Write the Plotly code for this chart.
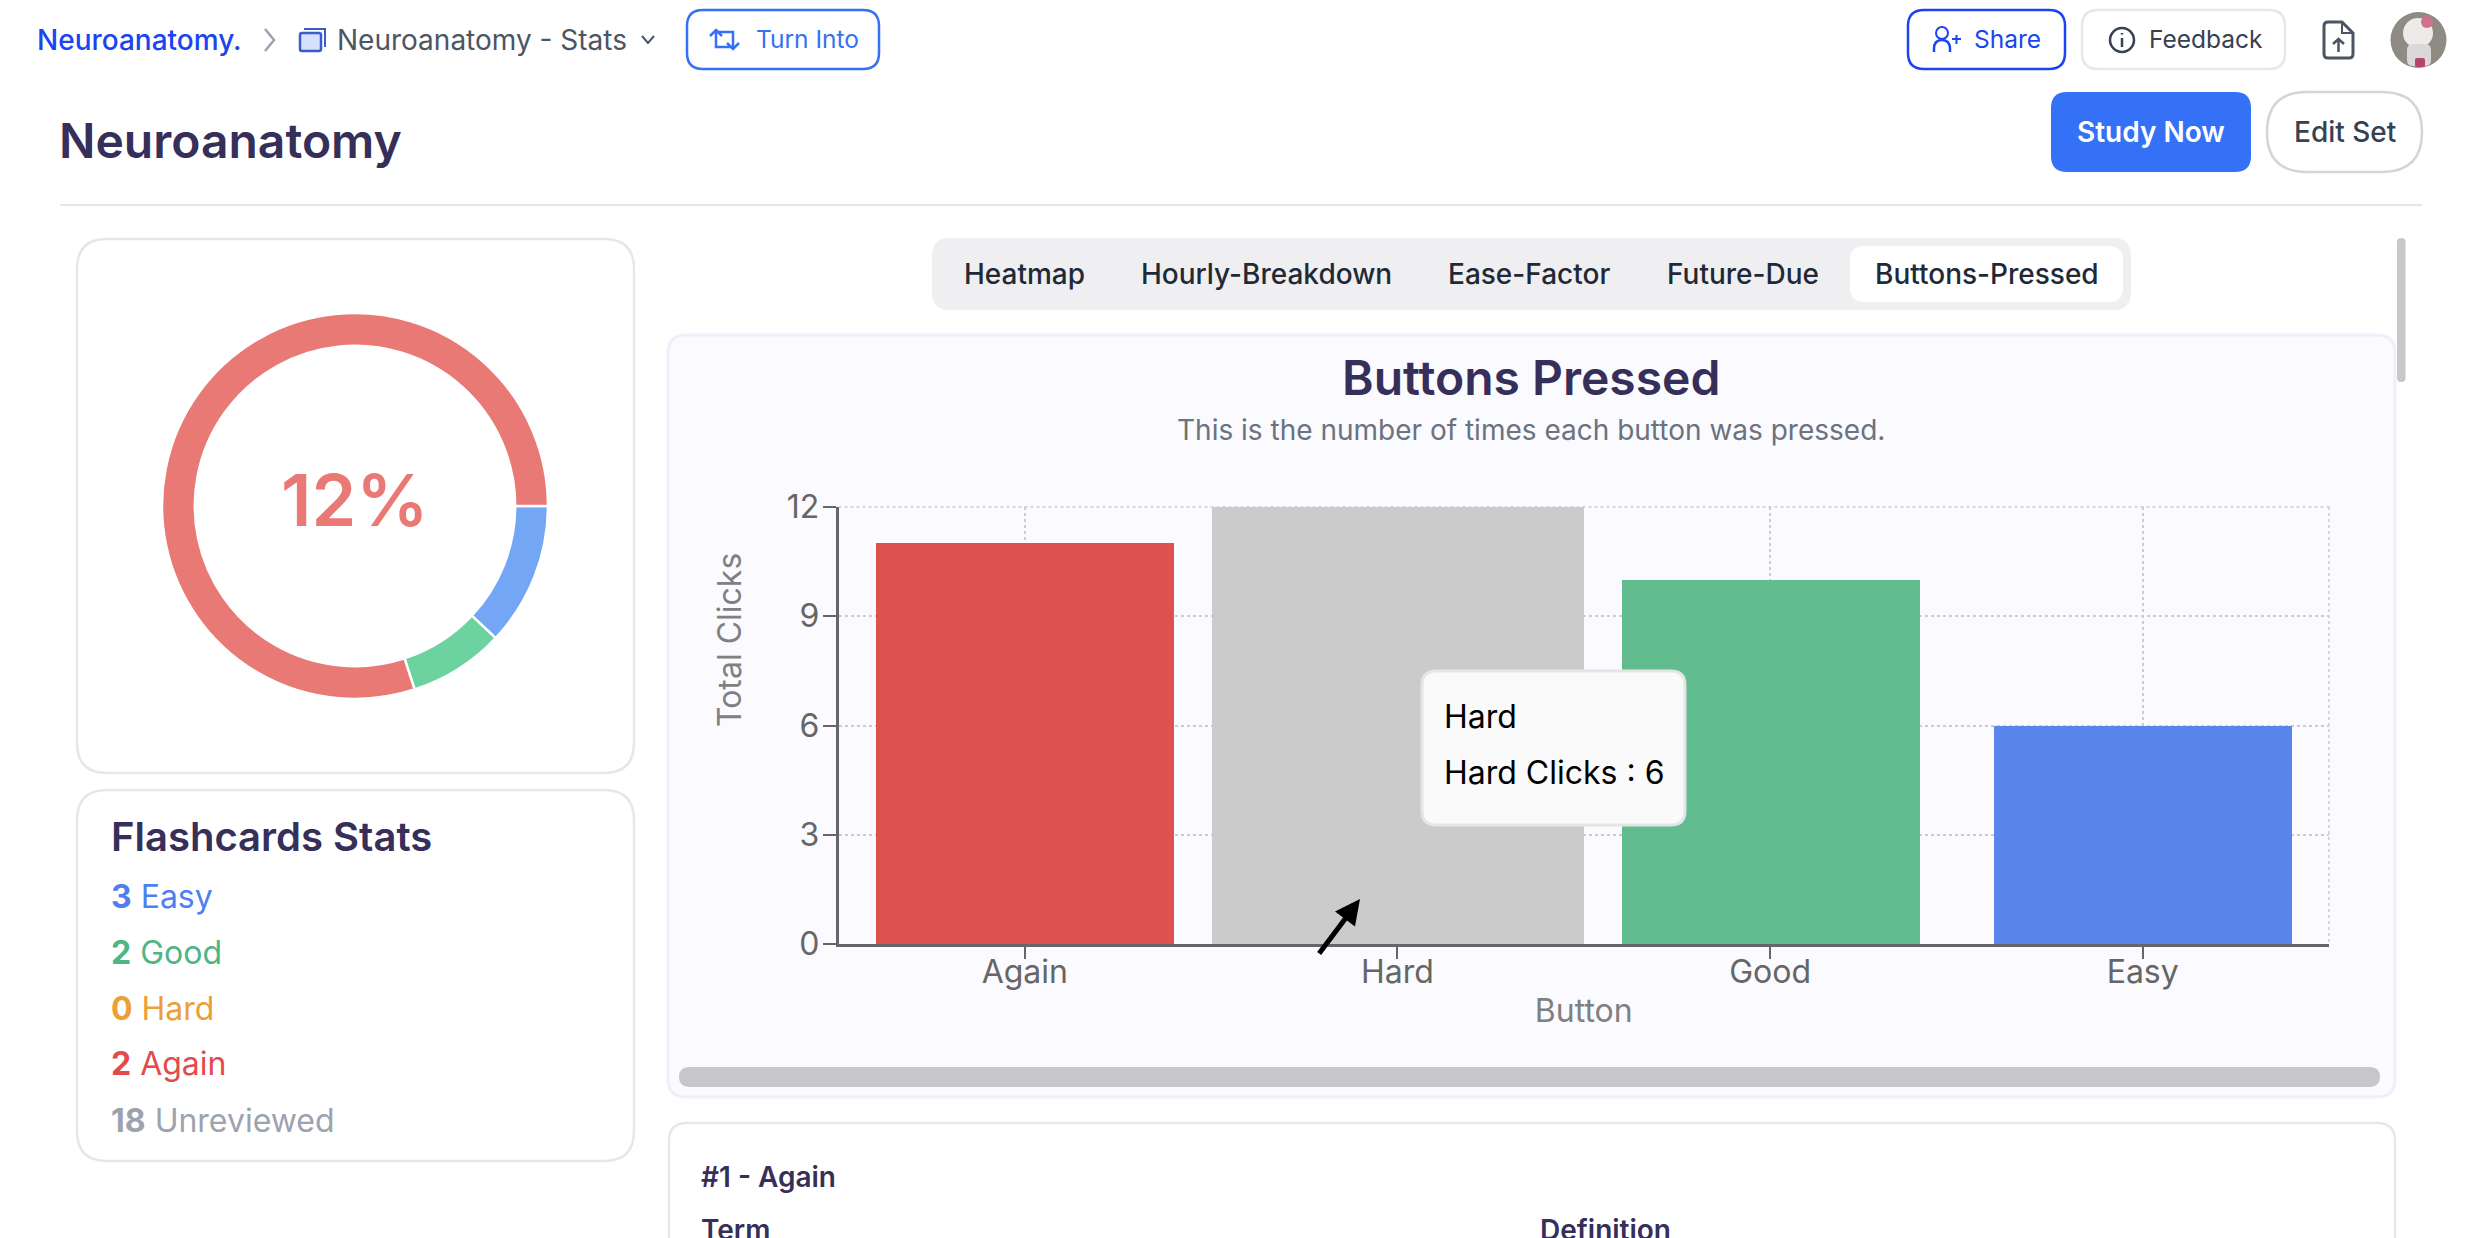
import re
import plotly.graph_objects as go

W, H = 2468, 1238

# Bar chart data
BUTTONS = ['Again', 'Hard', 'Good', 'Easy']
CLICKS = [11, 6, 10, 6]
BAR_COLORS = ['#DD524E', '#CBCBCB', '#61BD90', '#5A86EC']
CURSOR_BUTTON = ['Hard']
CURSOR_TOP = [12]
Y_TICKS = [0, 3, 6, 9, 12]

# Donut data
RING_NAMES = ['Easy', 'Good', 'Rest']
RING_VALUES = [3, 2, 20]
RING_COLORS = ['#74A6F6', '#6CD2A0', '#E97975']

# Stats list
STAT_COUNTS = [3, 2, 0, 2, 18]
STAT_NAMES = ['Easy', 'Good', 'Hard', 'Again', 'Unreviewed']
STAT_COLORS = ['#4F7FEE', '#4FB586', '#EB9F36', '#E24B4B', '#9CA3AF']
STAT_ROWS = [896, 952, 1008, 1063, 1120]

# Tabs
TAB_NAMES = ['Heatmap', 'Hourly-Breakdown', 'Ease-Factor', 'Future-Due', 'Buttons-Pressed']
TAB_LEFTS = [963, 1140, 1447, 1666, 1874]

INK = '#352F5A'
BLUE = '#3571F6'
ROYAL = '#1B45F0'
FONT = 'Inter'

# Plot frame in page pixels
PLOT_L, PLOT_R = 838.5, 2329
PLOT_T, PLOT_B = 507, 944


def fx(x):
    return x / W


def fy(y):
    return 1 - y / H


def svg(d):
    # pixel path -> paper path
    out = []
    is_x = True
    for tok in re.findall(r'[MLQCZ]|-?[\d.]+', d):
        if tok in 'MLQCZ':
            out.append(tok)
            is_x = True
        else:
            out.append(f'{fx(float(tok)):.6f}' if is_x else f'{fy(float(tok)):.6f}')
            is_x = not is_x
    return ' '.join(out)


def round_rect(x0, y0, x1, y1, r):
    return (f'M {x0 + r} {y0} L {x1 - r} {y0} Q {x1} {y0} {x1} {y0 + r} L {x1} {y1 - r} '
            f'Q {x1} {y1} {x1 - r} {y1} L {x0 + r} {y1} Q {x0} {y1} {x0} {y1 - r} '
            f'L {x0} {y0 + r} Q {x0} {y0} {x0 + r} {y0} Z')


shapes = []
notes = []


def box(x0, y0, x1, y1, r, fill='rgba(0,0,0,0)', line=None, width=2, layer='below'):
    shapes.append(dict(type='path', path=svg(round_rect(x0, y0, x1, y1, r)), xref='paper', yref='paper',
                       fillcolor=fill, line=dict(color=line or fill, width=width if line else 0), layer=layer))


def stroke(d, color, width=2.5, fill='rgba(0,0,0,0)'):
    shapes.append(dict(type='path', path=svg(d), xref='paper', yref='paper', fillcolor=fill,
                       line=dict(color=color, width=width), layer='below'))


def circle(cx, cy, r, fill='rgba(0,0,0,0)', line=None, width=2):
    shapes.append(dict(type='circle', xref='paper', yref='paper', x0=fx(cx - r), x1=fx(cx + r),
                       y0=fy(cy + r), y1=fy(cy - r), fillcolor=fill,
                       line=dict(color=line or fill, width=width if line else 0), layer='below'))


def label(x, y, text, size, color, weight=400, anchor='left'):
    notes.append(dict(x=fx(x), y=fy(y), xref='paper', yref='paper', text=text, showarrow=False,
                      xanchor=anchor, yanchor='middle', borderpad=0,
                      font=dict(family=FONT, size=size, color=color, weight=weight)))


# Top bar
label(35.5, 40, 'Neuroanatomy.', 28, ROYAL, 500)
stroke('M 265 29 L 274 40 L 265 51', '#9CA3AF', 2.5)
box(300, 33, 321, 51, 2, fill='#D6DFFB', line='#3B5BC9', width=2.5)
stroke('M 304 29 L 325 29 L 325 47', '#3B5BC9', 2)
label(336, 40, 'Neuroanatomy - Stats', 28, '#4B5563', 400)
stroke('M 642 36 L 648 43 L 654 36', '#4B5563', 2)
box(687, 10, 879, 69, 16, fill='#FFFFFF', line=BLUE, width=2.5)
stroke('M 710 36 L 716 30 L 722 36 M 716 30 L 716 47 L 731 47', BLUE, 2.5)
stroke('M 739 43 L 733 49 L 727 43 M 733 49 L 733 32 L 718 32', BLUE, 2.5)
label(755, 39, 'Turn Into', 24.5, BLUE, 400)

box(1908, 10, 2065, 69, 16, fill='#FFFFFF', line=ROYAL, width=2.5)
circle(1942, 33, 6, line=ROYAL)
stroke('M 1934 52 L 1934 49 Q 1934 40 1942 40 Q 1950 40 1950 49 L 1950 52', ROYAL, 2.5)
stroke('M 1952 39 L 1961 39 M 1956.5 35 L 1956.5 44', ROYAL, 2)
label(1973, 39, 'Share', 24.5, ROYAL, 400)
box(2082, 10, 2285, 69, 16, fill='#FFFFFF', line='#E5E7EB', width=2.5)
circle(2122, 40, 12, line='#374151', width=2.5)
stroke('M 2122 38 L 2122 47 M 2122 33 L 2122 34.5', '#374151', 2.5)
label(2148, 39, 'Feedback', 24.5, '#374151', 400)
stroke('M 2328 22 L 2342 22 L 2353 33 L 2353 54 Q 2353 58 2349 58 L 2328 58 Q 2324 58 2324 54 '
       'L 2324 26 Q 2324 22 2328 22 Z', '#4B5563', 3)
stroke('M 2342 22 L 2342 33 L 2353 33', '#4B5563', 2)
stroke('M 2338.5 52 L 2338.5 39 M 2333 44 L 2338.5 39 L 2344 44', '#4B5563', 2.5)

# Avatar, roughly
circle(2418.5, 40, 28, fill='#8F8A82')
circle(2418, 33, 15, fill='#EDEBEA')
box(2407, 44, 2431, 66, 6, fill='#DAD8D8')
circle(2427, 22, 6, fill='#D0708F')
box(2415, 58, 2425, 67, 2, fill='#B8446E')

# Header
label(58, 140, 'Neuroanatomy', 48, INK, 600)
box(2051, 92, 2251, 172, 16, fill=BLUE)
label(2151, 132, 'Study Now', 28, '#FFFFFF', 600, 'center')
box(2267, 92, 2422, 172, 40, fill='#FFFFFF', line='#D1D5DB', width=2.5)
label(2344.5, 132, 'Edit Set', 28, '#374151', 500, 'center')
shapes.append(dict(type='line', xref='paper', yref='paper', x0=fx(60), x1=fx(2422), y0=fy(205), y1=fy(205),
                   line=dict(color='#E5E7EB', width=2), layer='below'))

# Left cards
box(77, 239, 634, 773, 30, fill='#FFFFFF', line='#E5E7EB', width=2.5)
label(355, 500, '12%', 72, RING_COLORS[2], 600, 'center')
box(77, 790, 634, 1161, 30, fill='#FFFFFF', line='#E5E7EB', width=2.5)
label(110, 836, 'Flashcards Stats', 40, INK, 600)
for count, name, color, row in zip(STAT_COUNTS, STAT_NAMES, STAT_COLORS, STAT_ROWS):
    label(110, row, f'<b>{count}</b> {name}', 32, color, 400)

# Tabs
box(932, 238, 2131, 310, 18, fill='#EFEFF1')
box(1850, 246, 2123, 302, 14, fill='#FFFFFF')
for name, left in zip(TAB_NAMES, TAB_LEFTS):
    label(left, 274, name, 28, '#1F2937', 500)
box(2397, 238, 2405.5, 382, 4, fill='#C8C8CA')

# Chart card
box(668, 335, 2395, 1097, 18, fill='#FAFAFF', line='#EFEFFB', width=3)
label(1531, 377.5, 'Buttons Pressed', 48, INK, 600, 'center')
label(1531, 429.5, 'This is the number of times each button was pressed.', 28, '#6B7280', 400, 'center')
box(679, 1067, 2380, 1087, 10, fill='#C7C7C9')
notes.append(dict(x=fx(729), y=fy(640), xref='paper', yref='paper', text='Total Clicks', showarrow=False,
                  textangle=-90, xanchor='center', yanchor='middle',
                  font=dict(family=FONT, size=32, color='#808080')))

# Plot frame, top and right edge
for x0, y0, x1, y1 in [(PLOT_L, PLOT_T, PLOT_R, PLOT_T), (PLOT_R, PLOT_T, PLOT_R, PLOT_B)]:
    shapes.append(dict(type='line', xref='paper', yref='paper', x0=fx(x0), x1=fx(x1), y0=fy(y0), y1=fy(y1),
                       line=dict(color='#CCCCCC', width=1.5, dash='dot'), layer='below'))

# Bottom card
box(669, 1123, 2395, 1300, 18, fill='#FFFFFF', line='#E5E7EB', width=2.5)
label(700, 1177, '#1 - Again', 28, INK, 600)
label(700, 1230, 'Term', 28, INK, 600)
label(1539, 1230, 'Definition', 28, INK, 600)

# Tooltip
shapes.append(dict(type='path', path=svg(round_rect(1422, 671, 1685, 825, 14)), xref='paper', yref='paper',
                   fillcolor='#FAFAFA', line=dict(color='#E5E5E5', width=3), layer='above'))
label(1443, 716, 'Hard', 32, '#000000')
label(1443, 772, 'Hard Clicks : 6', 32, '#000000')

# Arrow on top of the screenshot
notes.append(dict(x=fx(1360), y=fy(899), xref='paper', yref='paper', ax=-42, ay=56, text='', showarrow=True,
                  arrowhead=2, arrowsize=1, arrowwidth=5, arrowcolor='#000000'))

cursor = go.Bar(x=CURSOR_BUTTON, y=CURSOR_TOP, width=1, marker=dict(color='#CBCBCB', line=dict(width=0)),
                hoverinfo='skip', showlegend=False)
bars = go.Bar(x=BUTTONS, y=CLICKS, width=0.8, marker=dict(color=BAR_COLORS, line=dict(width=0)), showlegend=False)
ring = go.Pie(labels=RING_NAMES, values=RING_VALUES, hole=0.83, sort=False, direction='clockwise', rotation=90,
              textinfo='none', marker=dict(colors=RING_COLORS, line=dict(color='#FFFFFF', width=2.5)),
              domain=dict(x=[fx(162), fx(548)], y=[fy(699), fy(313)]), showlegend=False)

axis_font = dict(family=FONT, size=32, color='#666666')
layout = go.Layout(
    width=W, height=H,
    margin=dict(l=0, r=0, t=0, b=0, autoexpand=False),
    paper_bgcolor='#FFFFFF', plot_bgcolor='rgba(0,0,0,0)',
    barmode='overlay', bargap=0,
    font=dict(family=FONT),
    xaxis=dict(domain=[fx(PLOT_L), fx(PLOT_R)], type='category', categoryorder='array', categoryarray=BUTTONS,
               range=[-0.5, 3.5], showline=True, linecolor='#666666', linewidth=2.5, automargin=False,
               ticks='outside', ticklen=12, tickwidth=1.5, tickcolor='#666666', tickfont=axis_font,
               ticklabelstandoff=-14,
               showgrid=True, gridcolor='#CCCCCC', griddash='dot', gridwidth=1.5, zeroline=False,
               title=dict(text='Button', standoff=10, font=dict(family=FONT, size=32, color='#808080'))),
    yaxis=dict(domain=[fy(PLOT_B), fy(PLOT_T)], range=[0, 12], tickvals=Y_TICKS, showline=True, linecolor='#666666',
               linewidth=2.5, automargin=False, ticks='outside', ticklen=13, tickwidth=1.5, tickcolor='#666666',
               tickfont=axis_font, ticklabelstandoff=-3, showgrid=True, gridcolor='#CCCCCC', griddash='dot',
               gridwidth=1.5, zeroline=False),
    shapes=shapes,
    annotations=notes,
)

fig = go.Figure(data=[cursor, bars, ring], layout=layout)
fig.write_html('out.html', config={'displayModeBar': False}, post_script="document.body.style.margin='0';")
